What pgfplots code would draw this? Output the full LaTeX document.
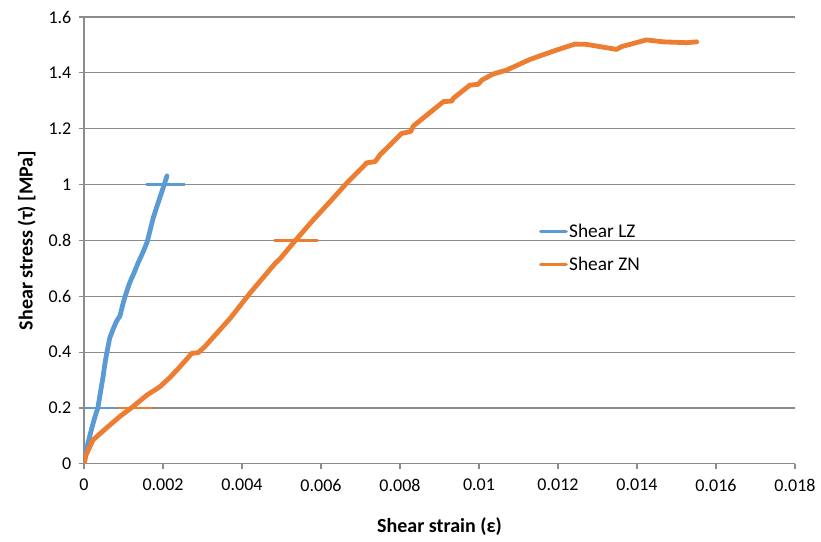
\documentclass[border=0pt]{standalone}
\usepackage{pgfplots}
\pgfplotsset{compat=1.18}
\usepackage{fontspec}
\setmainfont{Carlito}
\definecolor{lz}{HTML}{5B9BD5}
\definecolor{zn}{HTML}{ED7D31}
\definecolor{gridc}{HTML}{8C8C8C}
\begin{document}
\begin{tikzpicture}
\path[use as bounding box] (-63pt,-58.5pt) rectangle (552.5pt,347.75pt);
\begin{axis}[
  scale only axis, width=533pt, height=335pt,
  xmin=0, xmax=0.018, ymin=0, ymax=1.6,
  axis lines*=left,
  axis line style={gridc, line width=0.8pt},
  tick align=outside, major tick length=4pt,
  tick style={gridc, line width=0.8pt},
  xtick={0,0.002,0.004,0.006,0.008,0.01,0.012,0.014,0.016,0.018},
  xticklabels={0,0.002,0.004,0.006,0.008,0.01,0.012,0.014,0.016,0.018},
  scaled x ticks=false,
  ytick={0,0.2,0.4,0.6,0.8,1,1.2,1.4,1.6},
  yticklabels={0,0.2,0.4,0.6,0.8,1,1.2,1.4,1.6},
  ymajorgrids, grid style={gridc, line width=0.8pt},
  tick label style={font=\fontsize{13.5}{16}\selectfont, black},
  /pgf/number format/assume math mode=true,
  xticklabel style={yshift=-4pt},
  yticklabel style={xshift=-2pt},
  xlabel={\textbf{Shear strain (ε)}},
  ylabel={\textbf{Shear stress (τ) [MPa]}},
  label style={font=\fontsize{15}{18}\selectfont, black},
  xlabel style={at={(0.5,0)}, anchor=center, yshift=-47pt},
  ylabel style={at={(0,0.5)}, anchor=center, yshift=43pt},
  legend style={at={(0.634,0.483)}, anchor=west, draw=none, fill=none,
    font=\fontsize{14.5}{17}\selectfont, row sep=11pt,
    nodes={inner sep=1pt, text=black}},
  legend cell align=left,
  legend image code/.code={\draw[#1, line width=2.6pt] plot coordinates {(0pt,0pt) (19pt,0pt)};},
  every axis plot/.append style={line join=round, line cap=round},
]
\addplot[lz, line width=3.6pt] coordinates {
(0,0) (0.00005,0.04) (0.0001,0.075) (0.0002,0.13) (0.00028,0.17) (0.00035,0.20)
(0.00042,0.26) (0.00048,0.31) (0.00053,0.36) (0.00058,0.40) (0.00065,0.45)
(0.00073,0.48) (0.00082,0.51) (0.00091,0.53) (0.00098,0.57) (0.00104,0.60)
(0.00116,0.65) (0.00127,0.685) (0.00137,0.72) (0.0015,0.76) (0.0016,0.795)
(0.00168,0.84) (0.00175,0.88) (0.0019,0.945) (0.00203,1.0) (0.0021,1.031)
};
\addlegendentry{Shear LZ}
\addplot[zn, line width=3.6pt] coordinates {
(0,0) (0.00005,0.032) (0.00015,0.062) (0.00023,0.086) (0.00058,0.13) (0.00091,0.17)
(0.00124,0.205) (0.0016,0.247) (0.00192,0.276) (0.00218,0.31) (0.00243,0.348)
(0.00273,0.396) (0.00289,0.398) (0.00306,0.42) (0.0037,0.521) (0.0042,0.611)
(0.00484,0.718) (0.00496,0.734) (0.00534,0.798) (0.0058,0.873) (0.00623,0.939)
(0.00665,1.005) (0.00716,1.078) (0.00737,1.082) (0.00749,1.106) (0.00804,1.183)
(0.00827,1.19) (0.00834,1.21) (0.0091,1.297) (0.00931,1.299) (0.00935,1.309)
(0.00977,1.356) (0.00998,1.359) (0.01007,1.374) (0.01036,1.396) (0.0107,1.41)
(0.01129,1.448) (0.01197,1.482) (0.01243,1.503) (0.01272,1.502) (0.01348,1.484)
(0.01361,1.494) (0.01424,1.518) (0.01467,1.511) (0.01526,1.508) (0.01551,1.511)
};
\addlegendentry{Shear ZN}
% horizontal bars
\addplot[lz, line width=1.9pt, forget plot, line cap=butt] coordinates {(0.00003,0.2) (0.00076,0.2)};
\addplot[lz, line width=1.9pt, forget plot, line cap=butt] coordinates {(0.00157,1.0) (0.00256,1.0)};
\addplot[zn, line width=1.9pt, forget plot, line cap=butt] coordinates {(0.00086,0.2) (0.00175,0.2)};
\addplot[zn, line width=1.9pt, forget plot, line cap=butt] coordinates {(0.00481,0.8) (0.00592,0.8)};
\end{axis}
\end{tikzpicture}
\end{document}
